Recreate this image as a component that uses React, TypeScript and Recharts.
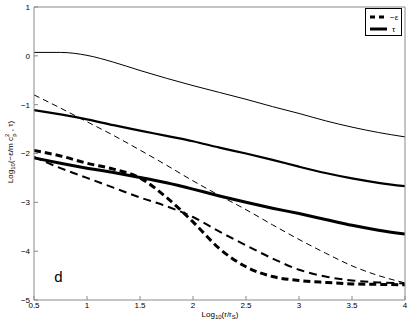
import React from "react"
import {
  LineChart,
  Line,
  XAxis,
  YAxis,
  ReferenceDot,
} from "recharts"

const xs = [0.5, 0.75, 1.0, 1.25, 1.5, 1.75, 2.0, 2.25, 2.5, 2.75, 3.0, 3.25, 3.5, 3.75, 4.0]

// tau curves (solid)
const tauThin = [0.07, 0.07, 0.01, -0.13, -0.3, -0.46, -0.61, -0.75, -0.89, -1.04, -1.18, -1.33, -1.46, -1.57, -1.66]
const tauUpper = [-1.11, -1.2, -1.3, -1.42, -1.53, -1.64, -1.75, -1.88, -2.0, -2.13, -2.27, -2.4, -2.51, -2.6, -2.67]
const tauLower = [-2.09, -2.2, -2.3, -2.39, -2.49, -2.6, -2.73, -2.87, -3.0, -3.12, -3.23, -3.35, -3.47, -3.57, -3.65]

// -epsilon curves (dashed)
const epsThin = [-0.8, -1.07, -1.35, -1.63, -1.93, -2.24, -2.56, -2.86, -3.15, -3.46, -3.76, -4.04, -4.3, -4.5, -4.65]
const epsMid = [-2.07, -2.3, -2.5, -2.7, -2.9, -3.08, -3.3, -3.6, -3.88, -4.15, -4.38, -4.52, -4.6, -4.64, -4.66]
const epsThick = [-1.94, -2.05, -2.2, -2.32, -2.5, -2.9, -3.4, -3.95, -4.32, -4.52, -4.6, -4.64, -4.67, -4.68, -4.69]

const xTicks = [0.5, 1, 1.5, 2, 2.5, 3, 3.5, 4]
const yTicks = [-5, -4, -3, -2, -1, 0, 1]

const data = xs.map((x, i) => ({
  x,
  tauThin: tauThin[i],
  tauUpper: tauUpper[i],
  tauLower: tauLower[i],
  epsThin: epsThin[i],
  epsMid: epsMid[i],
  epsThick: epsThick[i],
}))

const font = "'Liberation Sans', Arial, sans-serif"
const axisGray = "#8a8a8a"

const LegendBox = () => (
  <div
    style={{
      position: "absolute",
      left: 365,
      top: 8,
      width: 37,
      height: 28,
      border: "1px solid #000",
      boxSizing: "border-box",
      background: "#fff",
    }}
  >
    <svg width={37} height={28} style={{ position: "absolute", left: -1, top: -1 }}>
      <line x1={5} y1={9} x2={22} y2={9} stroke="#000" strokeWidth={3} strokeDasharray="5 4" />
      <text x={25} y={12} fontSize={8} fontFamily={font}>−ε</text>
      <line x1={5} y1={21} x2={22} y2={21} stroke="#000" strokeWidth={3} />
      <text x={27} y={24} fontSize={8} fontFamily={font}>τ</text>
    </svg>
  </div>
)

const YLabel = () => (
  <text
    transform="translate(13,152) rotate(-90)"
    textAnchor="middle"
    fontFamily={font}
    fontSize={8}
    fill="#000"
  >
    <tspan>Log</tspan>
    <tspan fontSize={6} dy={2}>10</tspan>
    <tspan dy={-2}>(−ε/m c</tspan>
    <tspan fontSize={6} dy={-4}>2</tspan>
    <tspan fontSize={6} dx={-3} dy={7}>p</tspan>
    <tspan dy={-3}> , τ)</tspan>
  </text>
)

const XLabel = () => (
  <text x={220} y={317} textAnchor="middle" fontFamily={font} fontSize={8} fill="#000">
    <tspan>Log</tspan>
    <tspan fontSize={6} dy={2}>10</tspan>
    <tspan dy={-2}>(r/r</tspan>
    <tspan fontSize={6} dy={2}>S</tspan>
    <tspan dy={-2}>)</tspan>
  </text>
)

export default function App() {
  return (
    <div style={{ position: "absolute", left: 0, top: 0, width: 411, height: 327, background: "#fff" }}>
      <LineChart
        width={411}
        height={327}
        data={data}
        margin={{ top: 6, right: 5, left: 0, bottom: 0 }}
      >
        <XAxis
          dataKey="x"
          type="number"
          domain={[0.5, 4]}
          ticks={xTicks}
          height={27}
          stroke={axisGray}
          tickSize={-4}
          tickMargin={6}
          tick={{ fill: "#000", fontSize: 8, fontFamily: font }}
          tickFormatter={(v) => `${v}`}
          allowDataOverflow
        />
        <XAxis
          xAxisId="top"
          dataKey="x"
          type="number"
          orientation="top"
          domain={[0.5, 4]}
          ticks={xTicks}
          height={1}
          stroke={axisGray}
          tickSize={-4}
          tick={false}
        />
        <YAxis
          type="number"
          domain={[-5, 1]}
          ticks={yTicks}
          width={34}
          stroke={axisGray}
          tickSize={-4}
          tickMargin={8}
          tick={{ fill: "#000", fontSize: 8, fontFamily: font }}
          tickFormatter={(v) => (v < 0 ? `−${Math.abs(v)}` : `${v}`)}
          allowDataOverflow
        />
        <YAxis
          yAxisId="right"
          type="number"
          orientation="right"
          domain={[-5, 1]}
          ticks={yTicks}
          width={1}
          stroke={axisGray}
          tickSize={-4}
          tick={false}
        />
        <Line dataKey="tauThin" type="monotone" stroke="#000" strokeWidth={1} dot={false} isAnimationActive={false} />
        <Line dataKey="tauUpper" type="monotone" stroke="#000" strokeWidth={2.2} dot={false} isAnimationActive={false} />
        <Line dataKey="tauLower" type="monotone" stroke="#000" strokeWidth={3} dot={false} isAnimationActive={false} />
        <Line dataKey="epsThin" type="monotone" stroke="#000" strokeWidth={1} strokeDasharray="6 4" dot={false} isAnimationActive={false} />
        <Line dataKey="epsMid" type="monotone" stroke="#000" strokeWidth={2} strokeDasharray="8 5" dot={false} isAnimationActive={false} />
        <Line dataKey="epsThick" type="monotone" stroke="#000" strokeWidth={3} strokeDasharray="7 4" dot={false} isAnimationActive={false} />
        <ReferenceDot
          x={0.73}
          y={-4.53}
          r={0}
          fill="none"
          stroke="none"
          label={{ value: "d", position: "center", fontSize: 15, fontFamily: font, fill: "#000" }}
        />
        <YLabel />
        <XLabel />
      </LineChart>
      <LegendBox />
    </div>
  )
}
